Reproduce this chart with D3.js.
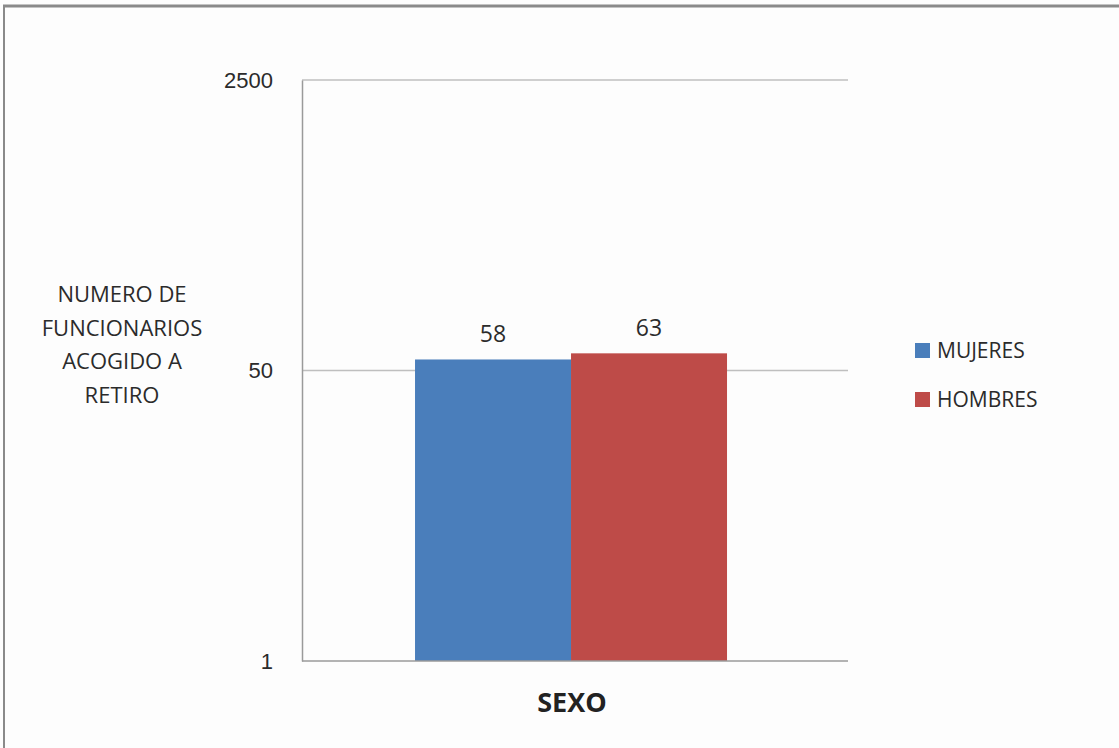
<!DOCTYPE html>
<html>
<head>
<meta charset="utf-8">
<script src="https://cdn.jsdelivr.net/npm/d3@7/dist/d3.min.js"></script>
<style>
  html, body { margin: 0; padding: 0; background: #fff; }
  svg { display: block; font-family: "Open Sans", "Noto Sans", sans-serif; }
</style>
</head>
<body>
<svg id="chart" width="1119" height="748"></svg>
<script>
// Funcionarios acogidos a retiro, por sexo
const categories = ["SEXO"];
const seriesNames = ["MUJERES", "HOMBRES"];
const seriesValues = [58, 63];
const seriesColors = ["#4a7ebb", "#be4b48"];
const tickValues = [1, 50, 2500];
const yTitleLines = ["NUMERO DE", "FUNCIONARIOS", "ACOGIDO A", "RETIRO"];

const svg = d3.select("#chart");
const W = 1119, H = 748;
const textColor = "#2b2b2b";

// frame
svg.append("rect").attr("width", W).attr("height", H).attr("fill", "#fdfdfd");
svg.append("line").attr("x1", 3).attr("x2", W).attr("y1", 6).attr("y2", 6)
  .attr("stroke", "#8a8a8a").attr("stroke-width", 3);
svg.append("line").attr("x1", 4).attr("x2", 4).attr("y1", 5).attr("y2", H)
  .attr("stroke", "#8a8a8a").attr("stroke-width", 2);

const plot = { left: 302, right: 848, top: 80, bottom: 661 };

// logarithmic value axis, base 50
const y = d3.scaleLog().base(50).domain([1, 2500]).range([plot.bottom, plot.top]);
const x0 = d3.scaleBand().domain(categories).range([plot.left, plot.right])
  .paddingInner(0).paddingOuter(0.375).align(0.483);
const x1 = d3.scaleBand().domain(seriesNames).range([0, x0.bandwidth()]);

// gridlines
svg.append("g").selectAll("line").data(tickValues.filter(v => v !== 1)).join("line")
  .attr("x1", plot.left).attr("x2", plot.right)
  .attr("y1", d => y(d)).attr("y2", d => y(d))
  .attr("stroke", "#bfbfbf").attr("stroke-width", 1.5);

// bars
const g = svg.append("g").attr("transform", `translate(${x0(categories[0])},0)`);
g.selectAll("rect").data(seriesValues).join("rect")
  .attr("x", (d, i) => x1(seriesNames[i]))
  .attr("width", x1.bandwidth())
  .attr("y", d => y(d))
  .attr("height", d => plot.bottom - y(d))
  .attr("fill", (d, i) => seriesColors[i]);

// value labels
g.selectAll("text").data(seriesValues).join("text")
  .attr("x", (d, i) => x1(seriesNames[i]) + x1.bandwidth() / 2)
  .attr("y", d => y(d) - 17)
  .attr("text-anchor", "middle")
  .attr("font-size", 23).attr("fill", textColor)
  .text(d => d);

// y axis
const yAxis = d3.axisLeft(y).tickValues(tickValues).tickFormat(d3.format("d")).tickSize(0).tickPadding(29);
const ya = svg.append("g").attr("transform", `translate(${plot.left},0)`).call(yAxis);
ya.select(".domain").attr("stroke", "#9a9a9a").attr("stroke-width", 1.5);
ya.selectAll("text").attr("font-size", 22).attr("fill", textColor).attr("font-family", "inherit");

// x axis baseline
svg.append("line").attr("x1", plot.left).attr("x2", plot.right)
  .attr("y1", plot.bottom).attr("y2", plot.bottom)
  .attr("stroke", "#9a9a9a").attr("stroke-width", 1.5);

// x axis title
svg.append("text").attr("x", 572).attr("y", 712).attr("text-anchor", "middle")
  .attr("font-size", 27).attr("font-weight", "bold").attr("fill", "#222")
  .text(categories[0]);

// y axis title
svg.append("text").attr("text-anchor", "middle").attr("font-size", 22).attr("fill", textColor)
  .selectAll("tspan").data(yTitleLines).join("tspan")
  .attr("x", 122).attr("y", (d, i) => 302 + i * 33.5).text(d => d);

// legend
const lg = svg.append("g").attr("transform", "translate(915,0)");
seriesNames.forEach((name, i) => {
  const base = 358 + i * 49;
  lg.append("rect").attr("x", 0).attr("y", base - 15).attr("width", 15).attr("height", 15).attr("fill", seriesColors[i]);
  lg.append("text").attr("x", 22).attr("y", base).attr("font-size", 21).attr("fill", textColor).text(name);
});
</script>
</body>
</html>
